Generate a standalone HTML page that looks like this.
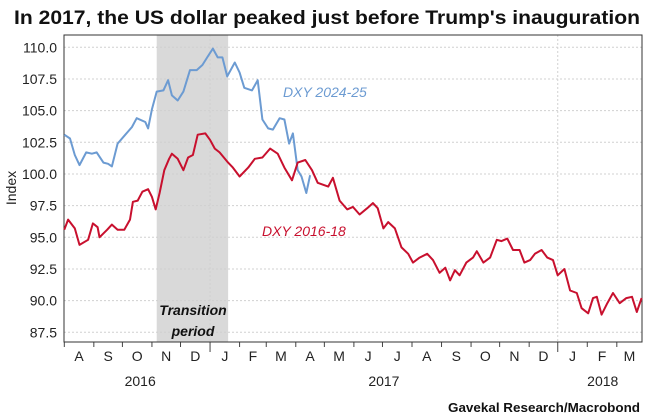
<!DOCTYPE html>
<html><head><meta charset="utf-8"><style>
html,body{margin:0;padding:0;background:#fff;}
svg{display:block;font-family:"Liberation Sans",sans-serif;}
</style></head><body>
<svg id="c" width="656" height="418" viewBox="0 0 656 418">
<text x="14" y="24" font-size="19" font-weight="bold" textLength="626" lengthAdjust="spacingAndGlyphs" fill="#111">In 2017, the US dollar peaked just before Trump's inauguration</text>
<g id="plot"></g>
<text x="640" y="412" text-anchor="end" font-size="12.5" font-weight="bold" fill="#111" textLength="192" lengthAdjust="spacingAndGlyphs">Gavekal Research/Macrobond</text>
</svg>
<script>
const yTicks=[87.5,90,92.5,95,97.5,100,102.5,105,107.5,110];
const monthLabels=["A","S","O","N","D","J","F","M","A","M","J","J","A","S","O","N","D","J","F","M"];
const yearLabels=["2016","2017","2018"];
const transition=[97,172];
const redDays=[0,4,11,16,25,30,35,37,45,50,56,63,69,72,77,82,88,92,96,100,105,110,113,119,125,130,135,140,148,153,158,163,172,177,184,193,200,208,216,224,231,239,245,253,260,266,277,282,289,297,303,310,318,324,329,335,340,347,354,361,366,373,381,387,394,400,405,410,415,422,429,433,440,447,454,459,465,471,478,483,489,494,501,507,513,518,525,531,538,543,550,555,559,564,570,576,583,590,596,601,606];
const redVals=[95.6,96.4,95.7,94.4,94.8,96.1,95.8,95.0,95.6,96.0,95.6,95.6,96.4,97.8,97.9,98.6,98.8,98.2,97.2,98.5,100.3,101.2,101.6,101.2,100.3,101.3,101.5,103.1,103.2,102.7,102.0,101.7,100.9,100.5,99.8,100.5,101.2,101.3,102.0,101.6,100.5,99.5,100.9,101.1,100.3,99.3,99.0,99.7,97.9,97.2,97.4,96.8,97.3,97.7,97.3,95.7,96.2,95.7,94.2,93.7,93.0,93.4,93.7,93.2,92.2,92.6,91.6,92.4,92.0,93.0,93.4,93.9,93.0,93.4,94.8,94.7,94.9,94.0,94.0,93.0,93.2,93.7,94.0,93.4,93.2,92.0,92.5,90.8,90.6,89.4,89.0,90.2,90.3,88.9,89.8,90.6,89.8,90.2,90.3,89.1,90.2];
const blueDays=[0,6,11,16,23,29,34,41,46,50,56,64,71,76,85,88,92,97,104,109,113,119,125,132,139,145,150,156,161,166,171,176,179,184,189,197,203,208,214,219,226,231,236,240,245,249,254,258];
const blueVals=[103.1,102.8,101.5,100.7,101.7,101.6,101.7,100.9,100.8,100.6,102.4,103.1,103.7,104.4,104.1,103.6,105.1,106.5,106.6,107.4,106.2,105.8,106.5,108.2,108.2,108.6,109.2,109.9,109.2,109.2,107.7,108.4,108.8,108.0,106.8,106.6,107.4,104.3,103.6,103.5,104.4,104.3,102.4,103.2,100.3,99.8,98.5,99.9];

const L=64,R=642,T=35,B=342;
const x=d=>64.3+d*0.9526;
const y=v=>47.3+(110-v)*12.667;
const NS="http://www.w3.org/2000/svg";
const g=document.getElementById('plot');
function mk(t,a,p){const e=document.createElementNS(NS,t);for(const k in a)e.setAttribute(k,a[k]);(p||g).appendChild(e);return e;}

const sh=mk('rect',{x:x(transition[0]),y:T,width:x(transition[1])-x(transition[0]),height:B-T,fill:'#d9d9d9'});



yTicks.forEach(v=>{
  const l=mk('line',{x1:L,x2:R,y1:y(v),y2:y(v),stroke:'#d0d0d0','stroke-dasharray':'2,2','stroke-width':1});
  
  
  const t=mk('text',{x:57,y:y(v)+5,'text-anchor':'end','font-size':14,fill:'#222'});
  t.textContent=v.toFixed(1);
  
  
});
const mlen=[31,30,31,30,31,31,28,31,30,31,30,31,31,31,30,31,30,31,31,28,31];
let d=0;const bounds=[0];
mlen.forEach(n=>{d+=n;bounds.push(d);});
bounds.forEach((b,i)=>{
  const xx=x(b); if(xx>R+1)return;
  const yr=(i===5||i===17);
  if(yr){const vg=mk('line',{x1:xx,x2:xx,y1:T,y2:B,stroke:'#d0d0d0','stroke-dasharray':'2,2'});
    
    }
  const tk=mk('line',{x1:xx,x2:xx,y1:B,y2:B+(yr?10:5),stroke:'#444'});
  
  
});
monthLabels.forEach((m,i)=>{
  const cx=(x(bounds[i])+Math.min(x(bounds[i+1]),R))/2;
  const t=mk('text',{x:cx,y:361,'text-anchor':'middle','font-size':14,fill:'#222'});
  t.textContent=m;
  
  
});
const yrX=[x(bounds[0])+ (x(bounds[5])-x(bounds[0]))/2+3,x(bounds[5])+ (x(bounds[17])-x(bounds[5]))/2,x(bounds[17])+45];
yearLabels.forEach((s,i)=>{
  const t=mk('text',{x:yrX[i],y:386,'text-anchor':'middle','font-size':14,fill:'#222'});
  t.textContent=s;
  
  
});
const fr=mk('rect',{x:L,y:T,width:R-L,height:B-T,fill:'none',stroke:'#333','stroke-width':1});



function line(days,vals,col,name){
  const p=mk('polyline',{points:days.map((dd,i)=>x(dd).toFixed(1)+','+y(vals[i]).toFixed(1)).join(' '),fill:'none',stroke:col,'stroke-width':2,'stroke-linejoin':'round'});
  
  
}
line(blueDays,blueVals,'#6c9bd2','dxy-2024-25-line');
line(redDays,redVals,'#c8102e','dxy-2016-18-line');

function lab(txt,xx,yy,col,name,extra){
  const t=mk('text',Object.assign({x:xx,y:yy,'font-size':14,'font-style':'italic',fill:col},extra||{}));
  t.textContent=txt;
  
  
}
lab('DXY 2024-25',283,97,'#6c9bd2','dxy-2024-25-label');
lab('DXY 2016-18',262,236,'#c8102e','dxy-2016-18-label');
lab('Transition',193,315,'#111','transition-label',{'text-anchor':'middle','font-weight':'bold'});
lab('period',193,336,'#111','transition-label-2',{'text-anchor':'middle','font-weight':'bold'});
const il=mk('text',{x:0,y:0,'font-size':14,fill:'#222','text-anchor':'middle',transform:'translate(16,188) rotate(-90)'});
il.textContent='Index';


</script>
</body></html>
